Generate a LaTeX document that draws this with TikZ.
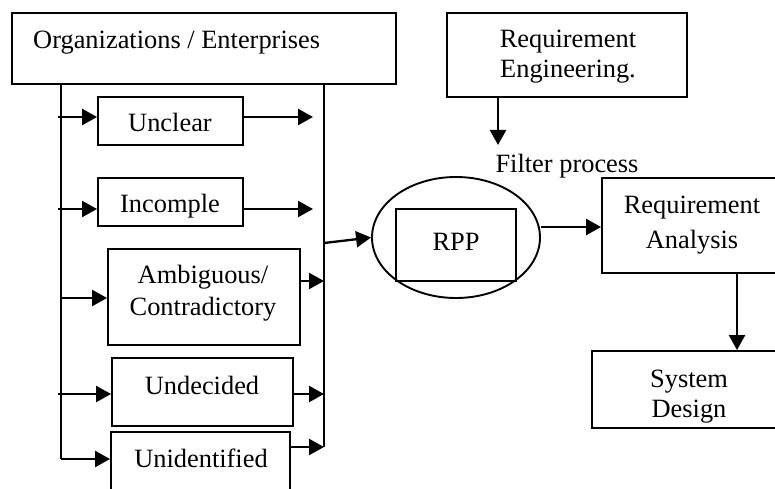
\documentclass[tikz,border=0pt]{standalone}
\usepackage{fontspec}
\setmainfont{Liberation Serif}
\usetikzlibrary{arrows.meta,shapes.geometric}
\begin{document}
\begin{tikzpicture}[x=1pt,y=-1pt,
 box/.style={draw, line width=1.9pt, rectangle, inner sep=0pt},
 lbl/.style={font=\fontsize{26.4}{30}\selectfont, anchor=base, inner sep=0pt},
 arr/.style={line width=2.3pt, -{Triangle[length=15pt,width=16pt]}},
 ln/.style={line width=1.9pt}]
\useasboundingbox (0,0) rectangle (775,489);
\clip (0,0) rectangle (775,489);
% boxes
\node[box, minimum width=384pt, minimum height=71pt] (org) at (204,48.5) {};
\node[box, minimum width=145pt, minimum height=48pt] (unclear) at (170.5,121) {};
\node[box, minimum width=145pt, minimum height=48pt] (incomple) at (170.5,202) {};
\node[box, minimum width=192pt, minimum height=96pt] (ambig) at (204,297) {};
\node[box, minimum width=181pt, minimum height=68pt] (undec) at (202.5,392) {};
\node[box, minimum width=179pt, minimum height=70pt] (unident) at (200.5,467) {};
\node[box, minimum width=240pt, minimum height=84pt] (reqeng) at (567,55) {};
\node[draw, line width=1.9pt, ellipse, inner sep=0pt, minimum width=168pt, minimum height=121pt] (ell) at (456,237.5) {};
\node[box, minimum width=120pt, minimum height=72pt] (rpp) at (456,245) {};
\node[box, minimum width=198pt, minimum height=95pt] (reqan) at (701,225.5) {};
\node[box, minimum width=208pt, minimum height=77pt] (sysdes) at (696,389.5) {};
% texts
\node[lbl, anchor=base west] (torg) at (33,49) {Organizations / Enterprises};
\node[lbl] (tunclear) at (170,132) {Unclear};
\node[lbl] (tincomple) at (170,212) {Incomple};
\node[lbl] (tambig1) at (203,283) {Ambiguous/};
\node[lbl] (tambig2) at (203,315) {Contradictory};
\node[lbl] (tundec) at (202,394) {Undecided};
\node[lbl] (tunident) at (201,467) {Unidentified};
\node[lbl] (treqeng1) at (568,48) {Requirement};
\node[lbl] (treqeng2) at (568,78) {Engineering.};
\node[lbl] (tfilter) at (567,172) {Filter process};
\node[lbl] (trpp) at (456,250) {RPP};
\node[lbl] (treqan1) at (692,213) {Requirement};
\node[lbl] (treqan2) at (692,248) {Analysis};
\node[lbl] (tsys1) at (689,387) {System};
\node[lbl] (tsys2) at (689,417) {Design};
% trunk lines
\coordinate (ltop) at (61,84);
\coordinate (lbot) at (61,459);
\coordinate (rtop) at (324,84);
\coordinate (rbot) at (324,447);
\draw[ln] (ltop) -- (lbot);
\draw[ln] (rtop) -- (rbot);
% inputs
\draw[arr] (58,117) -- (unclear.west |- 0,117);
\draw[arr] (58,209) -- (incomple.west |- 0,209);
\draw[arr] (ltop |- 0,298) -- (ambig.west |- 0,298);
\draw[arr] (58,394) -- (undec.west |- 0,394);
\draw[arr] (lbot) -- (unident.west |- lbot);
% outputs
\draw[arr] (unclear.east |- 0,117) -- (313,117);
\draw[arr] (incomple.east |- 0,209) -- (313,209);
\draw[arr] (ambig.east |- 0,281) -- (rtop |- 0,281);
\draw[arr] (undec.east |- 0,394) -- (rtop |- 0,394);
\draw[arr] (unident.east |- rbot) -- (rbot);
% right side
\draw[arr] (rtop |- 0,243) -- (ell.west);
\coordinate (fp) at (498,145);
\draw[arr] (reqeng.south -| fp) -- (fp);
\draw[arr] (ell.east |- 0,227) -- (reqan.west |- 0,227);
\draw[arr] (reqan.south -| 737,0) -- (sysdes.north -| 737,0);
\end{tikzpicture}
\end{document}
